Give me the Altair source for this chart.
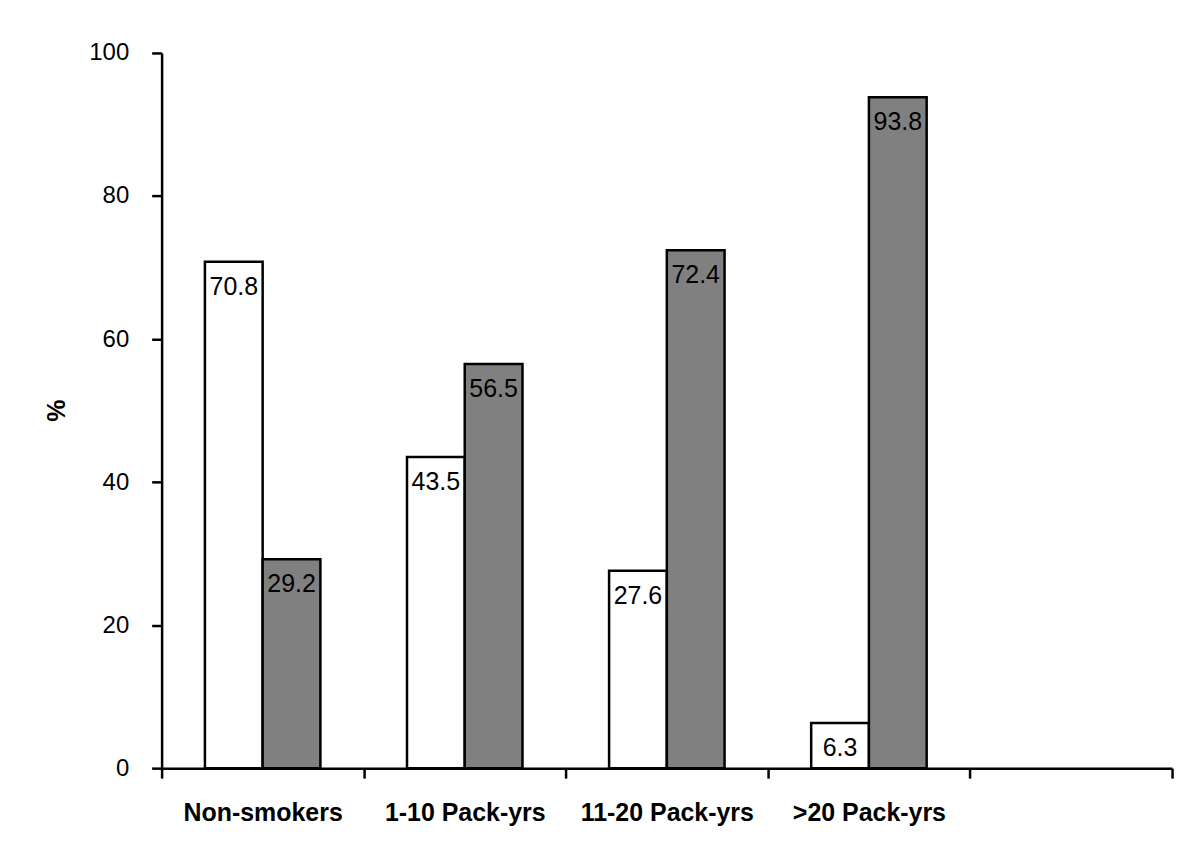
import altair as alt
import pandas as pd

categories = ["Non-smokers", "1-10 Pack-yrs", "11-20 Pack-yrs", ">20 Pack-yrs", " "]
bar_categories = ["Non-smokers", "1-10 Pack-yrs", "11-20 Pack-yrs", ">20 Pack-yrs"]
series_names = ["Group 1", "Group 2"]
white_values = [70.8, 43.5, 27.6, 6.3]
gray_values = [29.2, 56.5, 72.4, 93.8]
y_ticks = [0, 20, 40, 60, 80, 100]

rows = []
for c, w, g in zip(bar_categories, white_values, gray_values):
    rows.append({"cat": c, "series": series_names[0], "value": w, "label": f"{w:.1f}"})
    rows.append({"cat": c, "series": series_names[1], "value": g, "label": f"{g:.1f}"})
df = pd.DataFrame(rows)

FONT = "Liberation Sans"

x_enc = alt.X(
    "cat:N",
    sort=categories,
    scale=alt.Scale(domain=categories, paddingInner=0, paddingOuter=0),
    axis=alt.Axis(
        title=None,
        labelAngle=0,
        labelFontWeight="bold",
        labelFontSize=25,
        labelFont=FONT,
        labelColor="black",
        labelPadding=22,
        tickBand="extent",
        tickSize=10,
        tickWidth=2.5,
        tickColor="black",
        domainColor="black",
        domainWidth=2.5,
        grid=False,
    ),
)
xoff_enc = alt.XOffset(
    "series:N",
    sort=series_names,
    scale=alt.Scale(domain=series_names, paddingInner=0, paddingOuter=0.75),
)
y_enc = alt.Y(
    "value:Q",
    scale=alt.Scale(domain=[0, 100], nice=False),
    axis=alt.Axis(
        title="%",
        values=y_ticks,
        titleFontSize=25,
        titleFontWeight="bold",
        titleFont=FONT,
        titleColor="black",
        titleX=-105,
        titleY=358,
        titleAngle=270,
        titleAlign="center",
        titleBaseline="middle",
        labelFontSize=24,
        labelFont=FONT,
        labelColor="black",
        labelPadding=23,
        tickSize=10,
        tickWidth=2.5,
        tickColor="black",
        domainColor="black",
        domainWidth=2.5,
        grid=False,
    ),
)

bars = alt.Chart(df).mark_bar(stroke="black", strokeWidth=2.5).encode(
    x=x_enc,
    xOffset=xoff_enc,
    y=y_enc,
    fill=alt.Fill(
        "series:N",
        scale=alt.Scale(domain=series_names, range=["white", "#808080"]),
        legend=None,
    ),
)

labels = alt.Chart(df).mark_text(
    baseline="middle", align="center", dy=25, fontSize=25, font=FONT, color="black"
).encode(
    x=alt.X("cat:N", sort=categories),
    xOffset=alt.XOffset("series:N", sort=series_names),
    y=alt.Y("value:Q"),
    text="label:N",
)

chart = (
    alt.layer(bars, labels)
    .properties(
        width=1013,
        height=717,
        autosize=alt.AutoSizeParams(type="none"),
        padding={"left": 154, "top": 44, "right": 20, "bottom": 90},
        view=alt.ViewBackground(stroke="white", strokeWidth=0, strokeOpacity=0),
    )
    .configure_view(strokeWidth=0, stroke="white", strokeOpacity=0)
    .configure(background="white")
)

chart.save("out.html", embed_options={"renderer": "svg", "actions": False})
